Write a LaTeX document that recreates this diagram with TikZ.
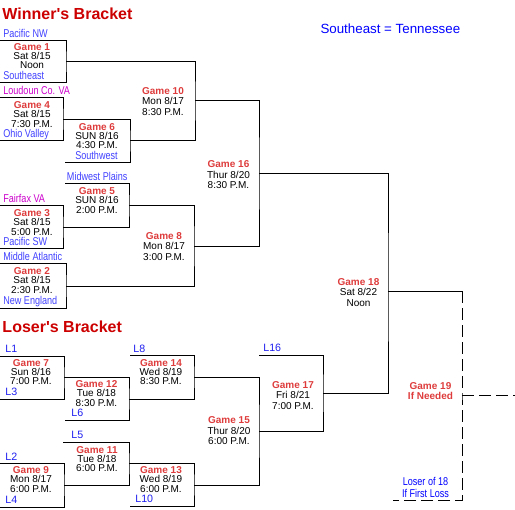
\documentclass[tikz,border=0pt]{standalone}
\usepackage{fontspec}
\setmainfont{Liberation Sans}
\newfontfamily\estrecha[FakeStretch=0.8]{Liberation Sans}
\usepackage{tikz}
\definecolor{rojotitulo}{RGB}{204,0,0}
\definecolor{rojojuego}{RGB}{222,60,60}
\definecolor{azulequipo}{RGB}{64,64,255}
\definecolor{azulL}{RGB}{30,30,240}
\definecolor{magentaequipo}{RGB}{204,0,204}
\newcommand{\rotulo}[1]{{\color{rojojuego}\bfseries #1}}

\begin{document}
\begin{tikzpicture}[x=0.75pt,y=-0.75pt,line width=0.75pt,label distance=3pt,
  juego/.style={align=center,inner sep=0pt,font=\fontsize{7.5}{7}\selectfont},
  juegoancho/.style={juego,font=\fontsize{7.5}{7.9}\selectfont},
  equipo/.style={inner sep=0pt,text depth=0pt,text=azulequipo,font=\estrecha\fontsize{8.5}{8.5}\selectfont},
  perdedor/.style={inner sep=0pt,text depth=0pt,text=azulL,xshift=1.5pt,font=\fontsize{8}{8}\selectfont},
  titulo/.style={anchor=base west,inner sep=0pt,text=rojotitulo,font=\bfseries\fontsize{12}{12}\selectfont},
  discontinua/.style={dash pattern=on 9pt off 3.75pt}]
  \useasboundingbox (0,0) rectangle (515,510);

  % Titulos y nota
  \node[titulo] (tg) at (2,20) {Winner\textquotesingle s Bracket};
  \node[titulo] (tp) at (2,332) {Loser\textquotesingle s Bracket};
  \node[anchor=base west,inner sep=0pt,text=blue,font=\fontsize{10}{10}\selectfont] (nota) at (320,34) {Southeast = Tennessee};

  % Cuadro de ganadores: equipos y llaves
  \coordinate[label={[equipo]above right:Pacific NW}] (e1) at (0,41);
  \coordinate[label={[equipo]above right:Southeast}] (e2) at (0,83);
  \coordinate (s1) at (66,62);
  \draw (e1) -| (s1) |- (e2);
  \coordinate[label={[equipo,text=magentaequipo]above right:Loudoun Co. VA}] (e3) at (0,98);
  \coordinate[label={[equipo]above right:Ohio Valley}] (e4) at (0,141);
  \coordinate (s4) at (63,119.5);
  \draw (e3) -| (s4) |- (e4);
  \coordinate[label={[equipo,xshift=5.25pt]above right:Southwest}] (e5) at (65,163);
  \coordinate (s6) at (130,141);
  \draw (s4) -| (s6) |- (e5);
  \coordinate (s10) at (195,101);
  \draw (s1) -| (s10) |- (s6);

  \coordinate[label={[equipo,xshift=-1pt]above right:Midwest Plains}] (e6) at (65,184);
  \coordinate[label={[equipo,text=magentaequipo]above right:Fairfax VA}] (e7) at (0,206);
  \coordinate[label={[equipo]above right:Pacific SW}] (e8) at (0,249);
  \coordinate (s3) at (63,227.5);
  \draw (e7) -| (s3) |- (e8);
  \coordinate (s5) at (129,206);
  \draw (e6) -| (s5) |- (s3);
  \coordinate[label={[equipo]above right:Middle Atlantic}] (e9) at (0,264);
  \coordinate[label={[equipo]above right:New England}] (e10) at (0,308);
  \coordinate (s2) at (66,286);
  \draw (e9) -| (s2) |- (e10);
  \coordinate (s8) at (194,246.5);
  \draw (s5) -| (s8) |- (s2);
  \coordinate (s16) at (259,173.5);
  \draw (s10) -| (s16) |- (s8);

  % Cuadro de perdedores
  \coordinate[label={[perdedor]above right:L1}] (l1) at (0,356);
  \coordinate[label={[perdedor]above right:L3}] (l3) at (0,399);
  \coordinate (s7) at (64,377.5);
  \draw (l1) -| (s7) |- (l3);
  \coordinate[label={[perdedor,xshift=0.75pt]above right:L6}] (l6) at (65,420);
  \coordinate (s12) at (129,399);
  \draw (s7) -| (s12) |- (l6);
  \coordinate[label={[perdedor,xshift=-1.5pt]above right:L8}] (l8) at (130,355.5);
  \coordinate (s14) at (194,377);
  \draw (l8) -| (s14) |- (s12);
  \coordinate[label={[perdedor]above right:L2}] (l2) at (0,463.5);
  \coordinate[label={[perdedor]above right:L4}] (l4) at (0,507);
  \coordinate (s9) at (64,485);
  \draw (l2) -| (s9) |- (l4);
  \coordinate[label={[perdedor,xshift=2.25pt]above right:L5}] (l5) at (63,442);
  \coordinate (s11) at (129,463.5);
  \draw (l5) -| (s11) |- (s9);
  \coordinate[label={[perdedor]above right:L10}] (l10) at (130,506);
  \coordinate (s13) at (194,485);
  \draw (s11) -| (s13) |- (l10);
  \coordinate (s15) at (259,431);
  \draw (s14) -| (s15) |- (s13);
  \coordinate[label={[perdedor,xshift=-0.75pt]above right:L16}] (l16) at (259,355);
  \coordinate (s17) at (323,393);
  \draw (l16) -| (s17) |- (s15);

  % Final y juego 19
  \coordinate (s18) at (388,291);
  \draw (s16) -| (s18) |- (s17);
  \coordinate (c19) at (462,291);
  \coordinate (s19) at (462,395.5);
  \coordinate (e19) at (393,500);
  \coordinate (fin) at (515,395.5);
  \draw (s18) -- (c19);
  \draw[discontinua] (c19) -- (s19) |- (e19);
  \draw[discontinua] (s19) -- (fin);

  % Rotulos de los juegos
  \node[juego] (j1) at (32,56) {\rotulo{Game 1}\\Sat 8/15\\Noon};
  \node[juego] (j4) at (32,114.5) {\rotulo{Game 4}\\Sat 8/15\\7:30 P.M.};
  \node[juego] (j6) at (97,136) {\rotulo{Game 6}\\SUN 8/16\\4:30 P.M.};
  \node[juegoancho] (j10) at (163,101.5) {\rotulo{Game 10}\\Mon 8/17\\8:30 P.M.};
  \node[juego] (j5) at (97,200.5) {\rotulo{Game 5}\\SUN 8/16\\2:00 P.M.};
  \node[juego] (j3) at (32,222.5) {\rotulo{Game 3}\\Sat 8/15\\5:00 P.M.};
  \node[juegoancho] (j8) at (164,246.5) {\rotulo{Game 8}\\Mon 8/17\\3:00 P.M.};
  \node[juego] (j2) at (32,280.5) {\rotulo{Game 2}\\Sat 8/15\\2:30 P.M.};
  \node[juegoancho] (j16) at (228.5,174.7) {\rotulo{Game 16}\\Thur 8/20\\8:30 P.M.};
  \node[juegoancho] (j18) at (358.5,292.5) {\rotulo{Game 18}\\Sat 8/22\\Noon};
  \node[juegoancho] (j19) at (430.5,391) {\rotulo{Game 19}\\\rotulo{If Needed}};
  \node[align=center,inner sep=0pt,text=blue,font=\estrecha\fontsize{8.5}{9}\selectfont] (n19) at (425.5,487) {Loser of 18\\If First Loss};

  \node[juego] (j7) at (31,372) {\rotulo{Game 7}\\Sun 8/16\\7:00 P.M.};
  \node[juego] (j12) at (96.5,393.5) {\rotulo{Game 12}\\Tue 8/18\\8:30 P.M.};
  \node[juego] (j14) at (161,372) {\rotulo{Game 14}\\Wed 8/19\\8:30 P.M.};
  \node[juegoancho] (j15) at (229,431) {\rotulo{Game 15}\\Thur 8/20\\6:00 P.M.};
  \node[juegoancho] (j17) at (293,395.5) {\rotulo{Game 17}\\Fri 8/21\\7:00 P.M.};
  \node[juego] (j11) at (97,459) {\rotulo{Game 11}\\Tue 8/18\\6:00 P.M.};
  \node[juego] (j9) at (31,479.5) {\rotulo{Game 9}\\Mon 8/17\\6:00 P.M.};
  \node[juego] (j13) at (161,479.5) {\rotulo{Game 13}\\Wed 8/19\\6:00 P.M.};
\end{tikzpicture}
\end{document}
